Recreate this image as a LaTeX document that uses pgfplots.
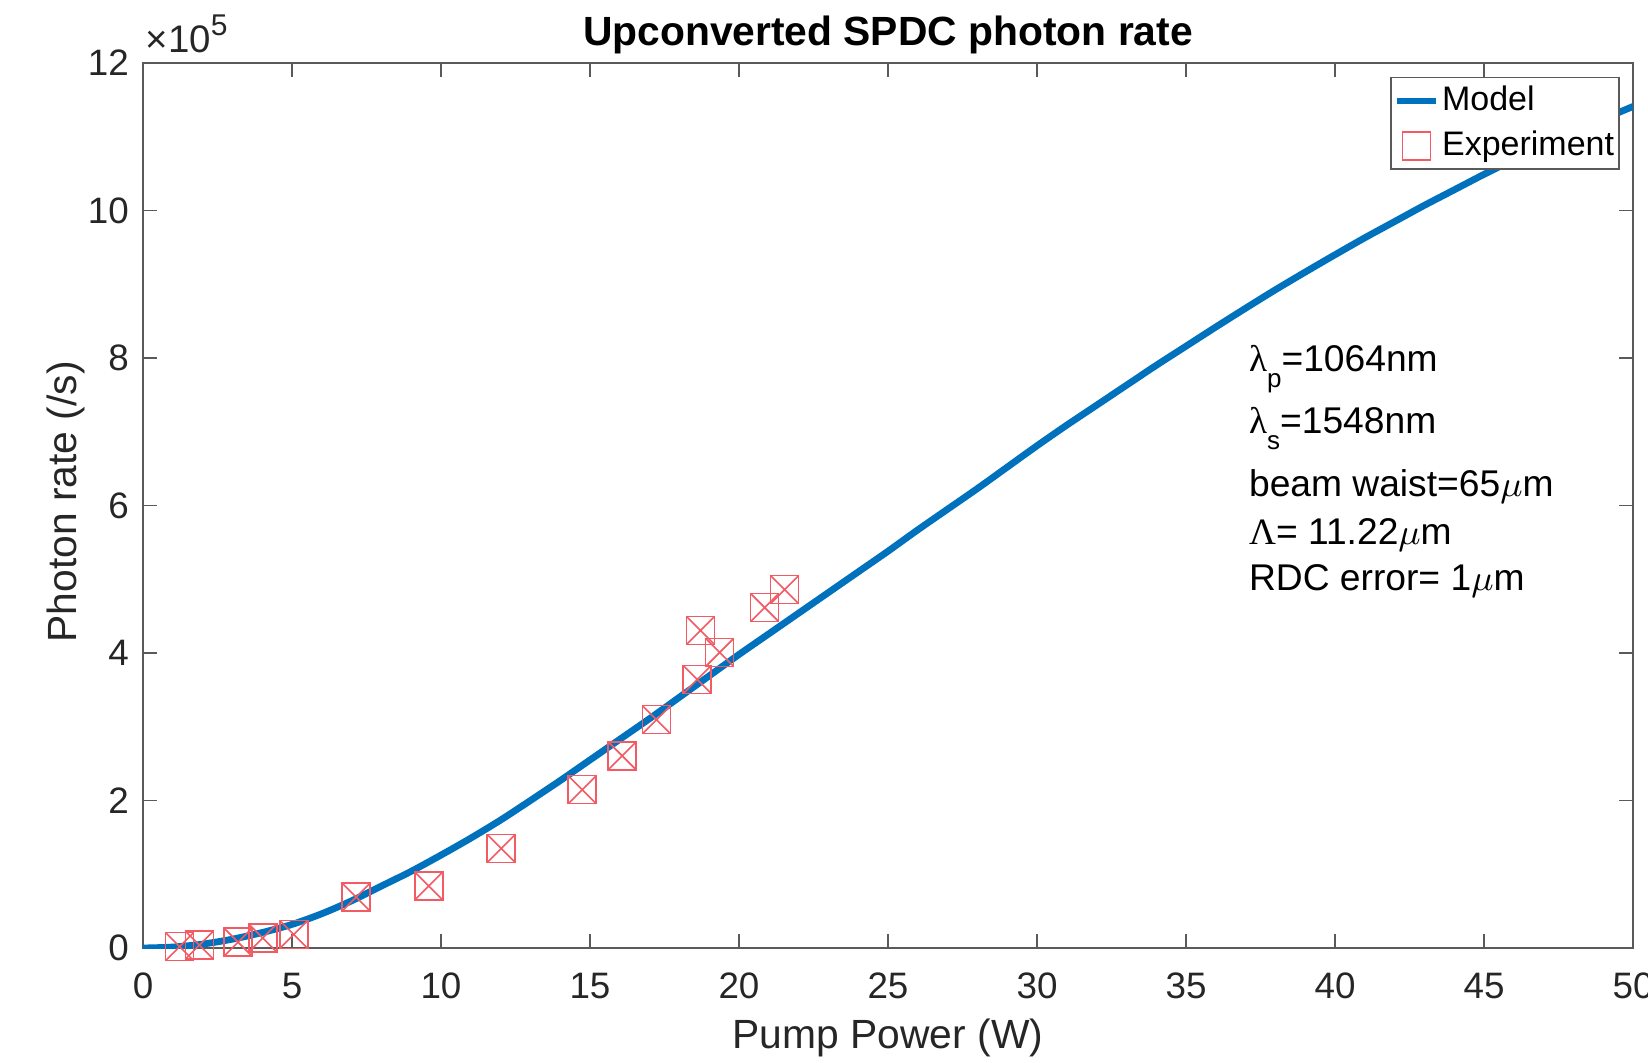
\documentclass[border=0pt]{standalone}
\usepackage{pgfplots}
\pgfplotsset{compat=1.18}
\usepackage{fontspec}
\setmainfont{Liberation Sans}
\newfontfamily\serf{Liberation Serif}
\definecolor{mblue}{RGB}{0,114,189}
\definecolor{mred}{RGB}{242,90,100}
\definecolor{axgray}{RGB}{90,90,90}
\definecolor{txgray}{RGB}{38,38,38}
\pgfplotsset{
  modelleg/.style={legend image code/.code={\draw[##1] (0pt,0pt) -- (9.7pt,0pt);}},
  markleg/.style={legend image code/.code={\draw[##1] plot coordinates {(4.85pt,0pt)};}},
}
\begin{document}
\begin{tikzpicture}
\begin{axis}[
  name=ax,
  scale only axis,
  width=372.5pt, height=221.25pt,
  xmin=0, xmax=50, ymin=0, ymax=1200000,
  xtick={0,5,...,50},
  ytick={0,200000,400000,600000,800000,1000000,1200000},
  yticklabels={0,2,4,6,8,10,12},
  scaled y ticks=false,
  /pgf/number format/assume math mode=true,
  tick align=inside,
  major tick length=3.5pt,
  axis line style={draw=axgray, line width=0.4pt},
  every tick/.style={draw=axgray, line width=0.4pt},
  tick label style={font=\fontsize{9.2}{10}\selectfont, text=txgray},
  xticklabel style={yshift=-2.7pt},
  xlabel={Pump Power (W)},
  ylabel={Photon rate (/s)},
  label style={font=\fontsize{10.2}{12}\selectfont, text=txgray},
  xlabel style={at={(rel axis cs:0.5,-0.1141)}, anchor=base},
  ylabel style={at={(rel axis cs:-0.0443,0.504)}, anchor=base},
  every axis title shift=0pt,
  title={\bfseries Upconverted SPDC photon rate},
  title style={at={(rel axis cs:0.5,1.0203)}, anchor=base, font=\fontsize{10.2}{12}\selectfont},
  legend style={at={(rel axis cs:0.9913,0.9845)}, anchor=north east, draw=axgray, line width=0.4pt,
    font=\fontsize{8.5}{10}\selectfont, inner xsep=0.6pt, inner ysep=0.5pt, row sep=0.5pt,
    nodes={inner xsep=0.7pt, inner ysep=1.2pt, text height=6.5pt, text depth=1.8pt}},
  legend cell align=left,
  clip mode=individual,
]
\addplot[mblue, line width=1.7pt, smooth, modelleg] table {
x y
0 0
1 1300
2 5300
3 12000
4 21000
5 32000
6 46500
7 64000
8 84000
9 104000
10 126000
11 149000
12 173500
13 200000
14 227000
15 255000
16 283000
17 311000
18 340000
19 369000
20 398000
21 426000
22 454000
23 482000
24 510000
25 538000
26 567000
27 595000
28 623000
29 652000
30 681000
31 709000
32 736000
33 763000
34 790000
35 816000
36 842000
37 867500
38 892500
39 916500
40 940000
41 963000
42 985000
43 1007000
44 1028000
45 1049000
46 1069000
47 1088000
48 1106000
49 1124000
50 1141000
};
\addlegendentry{Model}
\addplot[only marks, mark=square, mark size=3.5pt, draw=mred, line width=0.4pt, markleg] table {
x y
1.23 1800
1.89 4000
3.19 7900
4.02 13500
5.06 18300
7.15 69000
9.59 84000
12.02 135000
14.74 214700
16.08 260600
17.23 309600
18.60 364000
18.71 430500
19.35 400700
20.86 461700
21.53 486000
};
\addlegendentry{Experiment}
\addplot[only marks, mark=x, mark size=4.95pt, draw=mred, line width=0.4pt, forget plot] table {
x y
1.23 1800
1.89 4000
3.19 7900
4.02 13500
5.06 18300
7.15 69000
9.59 84000
12.02 135000
14.74 214700
16.08 260600
17.23 309600
18.60 364000
18.71 430500
19.35 400700
20.86 461700
21.53 486000
};
\node[anchor=base west, inner sep=0pt, font=\fontsize{9.6}{10}\selectfont, text=txgray] at (rel axis cs:0.0013,1.0113) {×10\raisebox{0.45em}{\fontsize{7.5}{8}\selectfont 5}};
\begin{scope}[every node/.style={anchor=base west, inner sep=0pt, font=\fontsize{9.3}{11}\selectfont, text=black}]
\node at (axis cs:37.09,781400) {{\serf λ}\raisebox{-4pt}{\fontsize{6.5}{7}\selectfont p}=1064nm};
\node at (axis cs:37.09,697900) {{\serf λ}\raisebox{-4pt}{\fontsize{6.5}{7}\selectfont s}=1548nm};
\node at (axis cs:37.09,611900) {beam waist=65$\mu$m};
\node at (axis cs:37.09,547800) {{\serf Λ}= 11.22$\mu$m};
\node at (axis cs:37.09,485400) {RDC error= 1$\mu$m};
\end{scope}
\end{axis}
\pgfresetboundingbox
\path[use as bounding box] ([shift={(-35.75pt,-28.5pt)}]ax.south west) rectangle ([shift={(3.75pt,15.75pt)}]ax.north east);
\end{tikzpicture}
\end{document}
